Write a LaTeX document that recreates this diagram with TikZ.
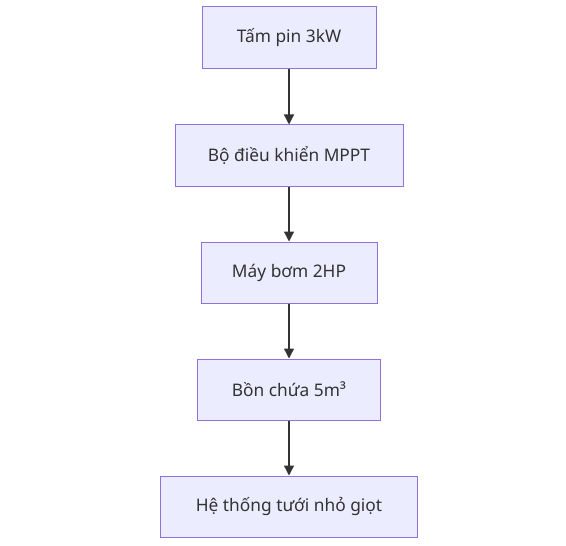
\documentclass[tikz,border=0pt]{standalone}
\usepackage{fontspec}
\setmainfont{Noto Sans}
\usetikzlibrary{arrows.meta}
\definecolor{boxfill}{HTML}{ECECFF}
\definecolor{boxline}{HTML}{9370DB}
\definecolor{arr}{HTML}{333333}
\tikzset{
  stepbox/.style={draw=boxline, fill=boxfill, line width=0.75pt, inner sep=0pt,
    font=\fontsize{13}{15}\selectfont, text=arr},
  flow/.style={draw=arr, line width=1pt, -{Triangle[length=7.5pt,width=7.5pt]}}
}
\begin{document}
\begin{tikzpicture}[x=0.75pt,y=-0.75pt]
\useasboundingbox (0,0) rectangle (566,545);
\node[stepbox, minimum width=174*0.75pt, minimum height=62*0.75pt] (a) at (289,38) {Tấm pin 3kW};
\node[stepbox, minimum width=228*0.75pt, minimum height=61*0.75pt] (b) at (289,155.5) {Bộ điều khiển MPPT};
\node[stepbox, minimum width=176*0.75pt, minimum height=61*0.75pt] (c) at (289,272.5) {Máy bơm 2HP};
\node[stepbox, minimum width=183*0.75pt, minimum height=61*0.75pt] (d) at (289,389.5) {Bồn chứa 5m³};
\node[stepbox, minimum width=257*0.75pt, minimum height=61*0.75pt] (e) at (289,506.5) {Hệ thống tưới nhỏ giọt};
\draw[flow] (a) -- (b);
\draw[flow] (b) -- (c);
\draw[flow] (c) -- (d);
\draw[flow] (d) -- (e);
\end{tikzpicture}
\end{document}
